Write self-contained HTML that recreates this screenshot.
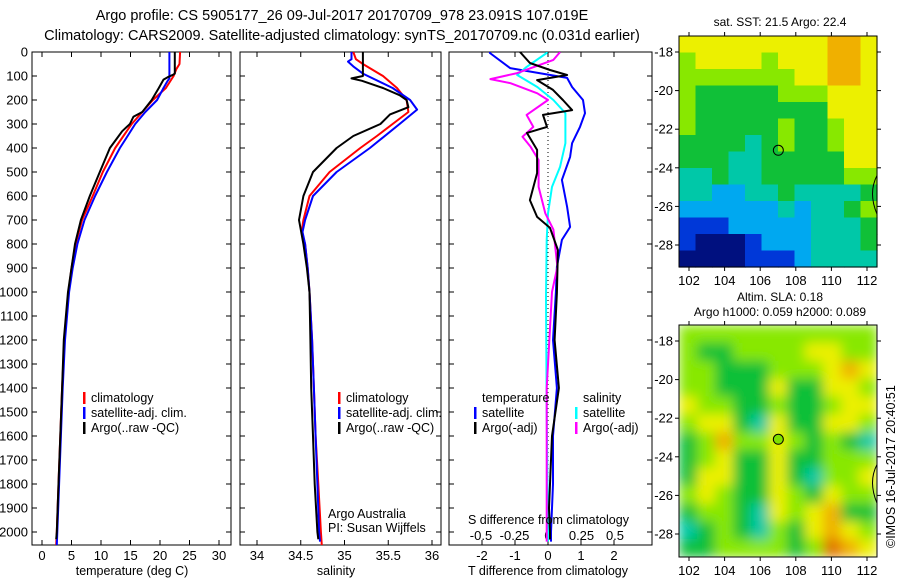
<!DOCTYPE html>
<html><head><meta charset="utf-8"><style>
html,body{margin:0;padding:0;background:#fff}
svg{display:block;font-family:"Liberation Sans",sans-serif}
text{font-size:12.5px;fill:#000}
</style></head><body>
<svg id="fig" width="900" height="580" viewBox="0 0 900 580" xmlns="http://www.w3.org/2000/svg">
<defs>
<clipPath id="c1"><rect x="32" y="52" width="199" height="493"/></clipPath>
<clipPath id="c2"><rect x="240" y="52" width="201" height="493"/></clipPath>
<clipPath id="c3"><rect x="449" y="52" width="203" height="493"/></clipPath>
<clipPath id="cm2"><rect x="679" y="325" width="198" height="232"/></clipPath>
<filter id="blur" x="0" y="0" width="1" height="1"><feGaussianBlur stdDeviation="6" edgeMode="duplicate"/></filter>
</defs>
<rect width="900" height="580" fill="#fff"/>
<text x="342" y="20" text-anchor="middle" style="font-size:14.5px">Argo profile: CS 5905177_26 09-Jul-2017 20170709_978 23.091S 107.019E</text>
<text x="342" y="40" text-anchor="middle" style="font-size:14.5px">Climatology: CARS2009. Satellite-adjusted climatology: synTS_20170709.nc (0.031d earlier)</text>
<g id="layer"></g>
<text x="780" y="26" text-anchor="middle" style="font-size:12px">sat. SST: 21.5 Argo: 22.4</text>
<text x="780" y="301" text-anchor="middle" style="font-size:12px">Altim. SLA: 0.18</text>
<text x="780" y="316" text-anchor="middle" style="font-size:12px">Argo h1000: 0.059 h2000: 0.089</text>
<text transform="translate(895,548) rotate(-90)" style="font-size:12.5px">©IMOS 16-Jul-2017 20:40:51</text>
<text x="328" y="518">Argo Australia</text>
<text x="328" y="532">PI: Susan Wijffels</text>
<text x="468" y="524">S difference from climatology</text>
<text x="132" y="575" text-anchor="middle">temperature (deg C)</text>
<text x="336" y="575" text-anchor="middle">salinity</text>
<text x="548" y="575" text-anchor="middle">T difference from climatology</text>
</svg>
<script>
// ---- data ----
const depthTicks = [0,100,200,300,400,500,600,700,800,900,1000,1100,1200,1300,1400,1500,1600,1700,1800,1900,2000];
const tempTicks = [0,5,10,15,20,25,30];
const salTicks = [34,34.5,35,35.5,36];
const salTickLabels = ["34","34.5","35","35.5","36"];
const tdTicks = [-2,-1,0,1,2];
const sdTicks = [-0.5,-0.25,0,0.25,0.5];
const sdTickLabels = ["-0.5","-0.25","0","0.25","0.5"];

const tClimDepth = [0,50,70,100,150,200,250,300,350,400,500,600,700,800,900,1000,1200,1400,1600,1800,2000,2055];
const tClimVal = [23.4,23.3,22.8,22.3,21.0,18.8,17.0,15.2,13.8,12.4,10.3,8.6,6.8,5.7,5.0,4.5,3.8,3.4,3.1,2.8,2.5,2.4];
const tSatDepth = [0,110,120,150,200,250,300,350,400,500,600,700,800,900,1000,1200,1400,1600,1800,2000,2055];
const tSatVal = [21.6,21.6,21.3,20.6,19.5,17.5,15.8,14.5,13.2,11.0,9.0,7.2,6.0,5.2,4.6,3.9,3.5,3.2,2.9,2.6,2.5];
const tArgoDepth = [0,90,95,105,115,150,200,250,270,300,330,350,400,500,600,700,800,900,1000,1200,1400,1600,1800,2000,2030];
const tArgoVal = [22.5,22.5,22.2,21.3,20.6,19.8,18.6,17.0,15.5,14.9,13.6,13.0,11.5,9.8,8.1,6.6,5.6,5.0,4.4,3.7,3.4,3.1,2.8,2.5,2.4];

const sClimDepth = [0,30,50,100,150,200,250,300,350,400,500,600,700,750,800,900,1000,1200,1400,1600,1800,2000,2055];
const sClimVal = [35.10,35.13,35.21,35.44,35.60,35.71,35.73,35.55,35.37,35.18,34.83,34.60,34.53,34.51,34.55,34.58,34.60,34.63,34.65,34.67,34.70,34.73,34.74];
const sSatDepth = [0,30,40,60,90,150,200,240,300,400,500,600,700,750,800,900,1000,1200,1400,1600,1800,2000,2040];
const sSatVal = [35.08,35.08,35.04,35.10,35.21,35.55,35.75,35.83,35.63,35.29,34.91,34.64,34.55,34.52,34.55,34.58,34.60,34.63,34.65,34.67,34.69,34.71,34.72];
const sArgoDepth = [0,100,110,120,150,180,200,230,260,300,350,400,500,600,700,800,900,1000,1200,1400,1600,1800,2000,2030];
const sArgoVal = [35.21,35.21,35.08,35.20,35.44,35.63,35.71,35.73,35.52,35.41,35.10,34.91,34.64,34.53,34.48,34.53,34.57,34.60,34.61,34.62,34.64,34.66,34.69,34.70];

const dTSatDepth = [0,4,67,108,146,200,255,312,380,437,533,645,729,783,895,1000,1200,1400,1600,1800,2000,2040];
const dTSatVal = [-1.76,-1.76,-1.15,0.58,0.73,1.06,1.12,0.97,0.73,0.67,0.42,0.58,0.67,0.42,0.27,0.24,0.15,0.27,0.15,0.15,0.09,0.09];
const dTArgoDepth = [0,46,75,96,117,158,200,242,262,312,337,408,504,617,687,733,825,1004,1200,1400,1600,1900,2000,2030];
const dTArgoVal = [-0.85,-0.55,0.06,0.58,-0.33,0.15,0.45,0.73,-0.15,-0.03,-0.64,-0.33,-0.33,-0.55,-0.33,0.06,0.3,0.27,0.2,0.33,0.12,0.03,0.06,0.06];
const dSSatDepth = [0,4,62,96,146,200,255,380,478,562,672,783,1020,1500,2000,2040];
const dSSatVal = [-0.01,-0.01,-0.16,-0.23,-0.08,0.04,0.13,0.13,0.09,0.03,0,-0.01,-0.015,-0.01,0,0];
const dSArgoDepth = [0,33,88,113,130,172,200,262,312,353,395,450,562,672,740,895,1000,1400,2000,2040];
const dSArgoVal = [0.09,0.04,-0.23,-0.43,-0.28,-0.08,0,-0.16,-0.11,-0.19,-0.13,-0.07,-0.07,-0.02,0.04,0.07,0.03,-0.01,-0.01,-0.01];

// SST map levels (rows north->south, cols west->east)
const sstGrid = [
[6,6,6,6,6,6,6,6,6,7,7,6],
[5,6,6,6,6,5,6,6,6,7,7,6],
[5,5,5,5,5,5,5,6,6,7,7,6],
[5,4,4,4,4,4,5,5,5,6,6,6],
[5,4,4,4,4,4,4,4,4,6,6,6],
[5,4,4,4,4,4,5,4,4,5,6,6],
[4,4,4,4,3,4,5,4,4,5,6,6],
[4,4,4,3,3,4,4,4,4,4,6,6],
[3,3,4,3,3,4,4,4,4,4,5,5],
[3,3,2,2,3,3,4,3,3,3,3,4],
[2,2,2,2,2,2,3,2,3,3,4,5],
[1,1,1,2,2,2,2,2,3,3,3,4],
[1,0,0,0,1,2,2,2,3,3,3,4],
[0,0,0,0,1,1,1,2,3,3,3,3]];
const slaGrid = [
[5,5,5,5,5,5,5,5,5,5,5],
[5,4,4,5,5,5,5,6,6,5,5],
[5,5,4,4,4,5,5,5,6,7,6],
[5,5,4,4,4,6,4,4,6,6,5],
[6,5,5,4,4,5,4,4,5,6,6],
[5,6,6,4,3,6,4,4,6,6,5],
[4,5,7,5,5,6,5,4,5,4,3],
[4,5,6,4,4,6,4,4,5,5,5],
[4,6,6,4,4,6,4,3,5,5,6],
[5,6,5,4,4,6,5,4,6,5,5],
[4,5,5,4,3,6,5,6,7,4,4],
[3,4,5,4,3,5,4,6,7,6,5],
[4,4,5,5,5,5,4,5,8,7,6]];
const levelColors = ["#00107f","#0038d8","#00a8f0","#00c8a8","#10c038","#88e800","#ecf000","#f0b000","#e07000"];
const lonTicks = [102,104,106,108,110,112];
const latTicks = [-18,-20,-22,-24,-26,-28];
const argoLon = 107.019, argoLat = -23.091;

// ---- drawing ----
const NS = "http://www.w3.org/2000/svg";
const layer = document.getElementById('layer');
function mk(tag, attrs, parent){ const e=document.createElementNS(NS,tag); for(const k in attrs) e.setAttribute(k,attrs[k]); (parent||layer).appendChild(e); return e; }
const yD = d => 52 + d*0.24;
const xT = v => 42 + v*5.9;
const xS = v => 257 + (v-34)*87.5;
const xTD = v => 548 + v*33;
const xSD = v => 548 + v*134;

const panels = [
 {name:'temperature-panel', x0:32, x1:231, clip:'c1'},
 {name:'salinity-panel', x0:240, x1:441, clip:'c2'},
 {name:'difference-panel', x0:449, x1:652, clip:'c3'}];
panels.forEach((p,i)=>{
  const r = mk('rect',{x:p.x0,y:52,width:p.x1-p.x0,height:493,fill:'none',stroke:'#000','stroke-width':1});
  
  
  depthTicks.forEach(d=>{
    const y=yD(d);
    mk('line',{x1:p.x0,x2:p.x0+5,y1:y,y2:y,stroke:'#000'});
    mk('line',{x1:p.x1-5,x2:p.x1,y1:y,y2:y,stroke:'#000'});
    if(i===0){
      const t=mk('text',{x:28,y:y+4.5,'text-anchor':'end',style:'font-size:13px'}); t.textContent=d;
      
      
    }
  });
});
function xTicks(ticks, labels, fx, yLab, top){
  ticks.forEach((v,i)=>{
    const x=fx(v);
    if(top!==false){ mk('line',{x1:x,x2:x,y1:52,y2:57,stroke:'#000'}); mk('line',{x1:x,x2:x,y1:540,y2:545,stroke:'#000'}); }
    const t=mk('text',{x:x,y:yLab,'text-anchor':'middle',style:'font-size:13px'}); t.textContent=labels[i];
    
    
  });
}
xTicks(tempTicks, tempTicks.map(String), xT, 560);
xTicks(salTicks, salTickLabels, xS, 560);
xTicks(tdTicks, tdTicks.map(String), xTD, 560);
xTicks(sdTicks, sdTickLabels, xSD, 540, false);
const zl = mk('line',{x1:xTD(0),x2:xTD(0),y1:52,y2:545,stroke:'#000','stroke-dasharray':'1,3'});



function series(name, depths, vals, fx, color, clip){
  const pts = depths.map((d,i)=>fx(vals[i]).toFixed(1)+','+yD(d).toFixed(1)).join(' ');
  const pl = mk('polyline',{points:pts,fill:'none',stroke:color,'stroke-width':2,'clip-path':'url(#'+clip+')','stroke-linejoin':'round'});
  
  
}
series('temp-climatology-line', tClimDepth, tClimVal, xT, '#ff0000','c1');
series('temp-satellite-line', tSatDepth, tSatVal, xT, '#0000ff','c1');
series('temp-argo-line', tArgoDepth, tArgoVal, xT, '#000000','c1');
series('sal-climatology-line', sClimDepth, sClimVal, xS, '#ff0000','c2');
series('sal-satellite-line', sSatDepth, sSatVal, xS, '#0000ff','c2');
series('sal-argo-line', sArgoDepth, sArgoVal, xS, '#000000','c2');
series('tdiff-satellite-line', dTSatDepth, dTSatVal, xTD, '#0000ff','c3');
series('sdiff-satellite-line', dSSatDepth, dSSatVal, xSD, '#00ffff','c3');
series('sdiff-argo-line', dSArgoDepth, dSArgoVal, xSD, '#ff00ff','c3');
series('tdiff-argo-line', dTArgoDepth, dTArgoVal, xTD, '#000000','c3');

function legend(x, y, color, label){
  const g = mk('g',{});
  
  
  mk('rect',{x:x,y:y-10,width:2.5,height:12,fill:color},g);
  const t=mk('text',{x:x+8,y:y},g); t.textContent=label;
}
legend(83,402,'#ff0000','climatology'); legend(83,417,'#0000ff','satellite-adj. clim.'); legend(83,432,'#000000','Argo(..raw -QC)');
legend(338,402,'#ff0000','climatology'); legend(338,417,'#0000ff','satellite-adj. clim.'); legend(338,432,'#000000','Argo(..raw -QC)');
legend(474,417,'#0000ff','satellite'); legend(474,432,'#000000','Argo(-adj)');
legend(575,417,'#00ffff','satellite'); legend(575,432,'#ff00ff','Argo(-adj)');
[[482,402,'temperature'],[583,402,'salinity']].forEach(a=>{const t=mk('text',{x:a[0],y:a[1]});t.textContent=a[2];
   });

// maps
const lonX = lon => 689 + (lon-102)*17.8;
function map(name, grid, top, bottom, blur){
  const g = mk('g',{});
  
  
  const gi = mk('g', blur?{filter:'url(#blur)','clip-path':'url(#cm2)'}:{}, g);
  const rows=grid.length, cols=grid[0].length, w=198/cols, h=(bottom-top)/rows;
  grid.forEach((row,r)=>row.forEach((v,c)=>{
    mk('rect',{x:(679+c*w).toFixed(2),y:(top+r*h).toFixed(2),width:(w+0.6).toFixed(2),height:(h+0.6).toFixed(2),fill:levelColors[v]},gi);
  }));
  const latY = lat => top + 16 + (-18-lat)*19.3;
  mk('rect',{x:679,y:top,width:198,height:bottom-top,fill:'none',stroke:'#000'},g);
  lonTicks.forEach(l=>{const x=lonX(l); mk('line',{x1:x,x2:x,y1:top-4,y2:top,stroke:'#000'},g); mk('line',{x1:x,x2:x,y1:bottom,y2:bottom+4,stroke:'#000'},g);
    const t=mk('text',{x:x,y:bottom+18,'text-anchor':'middle',style:'font-size:13px'},g); t.textContent=l;});
  latTicks.forEach(l=>{const y=latY(l); mk('line',{x1:675,x2:679,y1:y,y2:y,stroke:'#000'},g); mk('line',{x1:877,x2:881,y1:y,y2:y,stroke:'#000'},g);
    const t=mk('text',{x:673,y:y+4.5,'text-anchor':'end',style:'font-size:13px'},g); t.textContent=l;});
  mk('path',{d:`M877 ${latY(-24.4)} Q868 ${latY(-25.3)} 877 ${latY(-26.4)}`,fill:'none',stroke:'#000'},g);
  const c = mk('circle',{cx:lonX(argoLon),cy:latY(argoLat),r:5,fill:blur?'#80e000':'none',stroke:'#000'},g);
  
  
}
map('sst-map', sstGrid, 36, 267, false);
map('sla-map', slaGrid, 325, 557, true);
</script>
</body></html>
